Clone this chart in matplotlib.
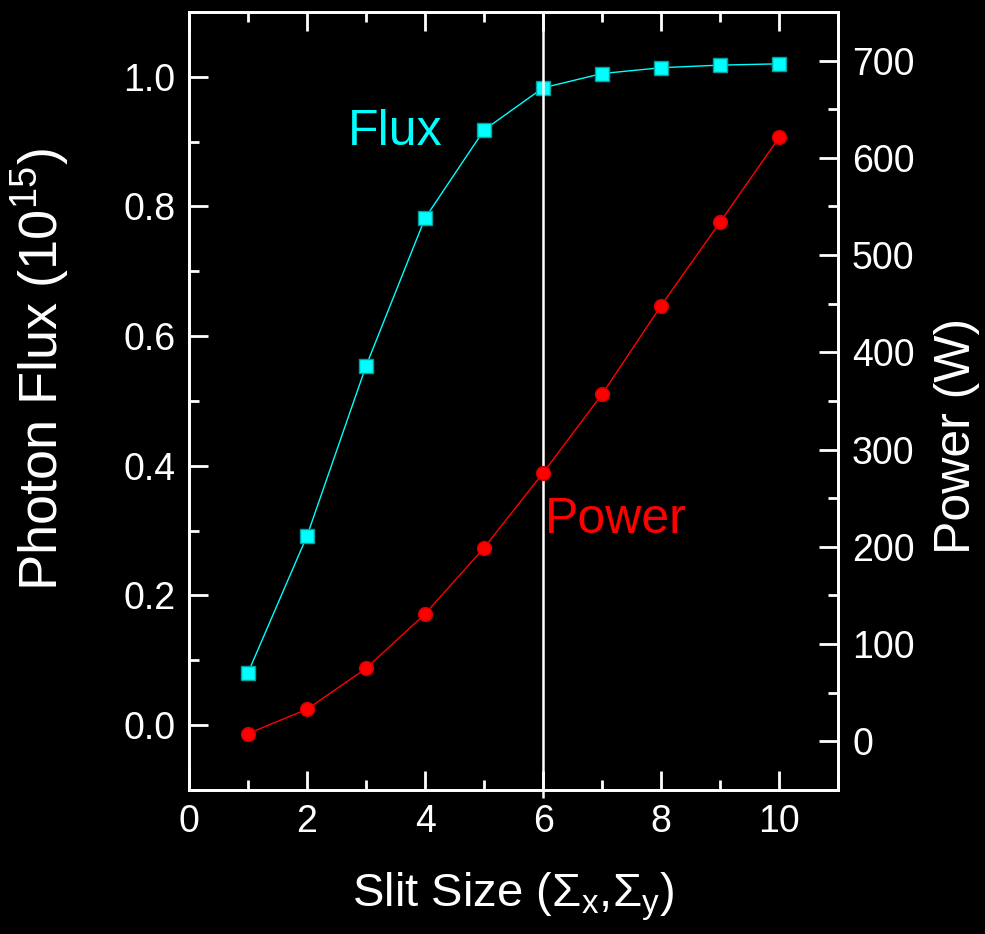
import matplotlib
matplotlib.use("Agg")
from matplotlib import pyplot as plt
from matplotlib.ticker import MultipleLocator

slit = [1, 2, 3, 4, 5, 6, 7, 8, 9, 10]
flux = [0.081, 0.292, 0.554, 0.782, 0.918, 0.983, 1.005, 1.014, 1.018, 1.020]
power = [8, 33, 75, 131, 199, 276, 357, 448, 534, 621]

x_ticks = [0, 2, 4, 6, 8, 10]
flux_ticks = [0.0, 0.2, 0.4, 0.6, 0.8, 1.0]
power_ticks = [0, 100, 200, 300, 400, 500, 600, 700]


def style_axis(ax):
    ax.set_facecolor("black")
    for s in ax.spines.values():
        s.set_color("white")
        s.set_linewidth(2)
    ax.tick_params(which="both", direction="in", colors="white", width=2,
                   labelsize=27)
    ax.tick_params(which="major", length=14, pad=10)
    ax.tick_params(which="minor", length=7)


def main():
    plt.rcParams["font.family"] = ["Liberation Sans", "DejaVu Sans"]
    plt.rcParams["mathtext.default"] = "regular"
    fig = plt.figure(figsize=(9.85, 9.34), dpi=100, facecolor="black")
    ax = fig.add_axes([0.1919, 0.1542, 0.659, 0.833])
    ax2 = ax.twinx()
    style_axis(ax)
    style_axis(ax2)

    ax.plot(slit, flux, color="cyan", lw=1, marker="s", markersize=10,
            markeredgecolor="#00a0a0", markeredgewidth=1)
    ax2.plot(slit, power, color="red", lw=1, marker="o", markersize=10,
             markeredgecolor="#d00000", markeredgewidth=1)
    # vertical marker at slit size 6, running a little past the bottom spine
    ax.vlines(6, -0.113, 1.1, color="white", lw=1.8, zorder=5, clip_on=False)

    ax.set_xlim(0, 11)
    ax.set_ylim(-0.1, 1.1)
    ax2.set_ylim(-50, 750)
    ax.set_xticks(x_ticks)
    ax.set_yticks(flux_ticks)
    ax.set_yticklabels([f"{v:.1f}" for v in flux_ticks])
    ax2.set_yticks(power_ticks)
    ax.xaxis.set_minor_locator(MultipleLocator(1))
    ax.yaxis.set_minor_locator(MultipleLocator(0.1))
    ax2.yaxis.set_minor_locator(MultipleLocator(50))
    ax.tick_params(top=True, which="both")
    ax.tick_params(axis="x", labeltop=False)

    ax.set_xlabel("Slit Size ($\\Sigma_x$,$\\Sigma_y$)", color="white",
                  fontsize=34, labelpad=22)
    ax.set_ylabel("Photon Flux (10$^{15}$)", color="white", fontsize=39)
    ax.yaxis.set_label_coords(-0.18, 0.54)
    ax2.set_ylabel("Power (W)", color="white", fontsize=36)
    ax2.yaxis.set_label_coords(1.147, 0.455)

    ax.text(3.5, 0.915, "Flux", color="cyan", fontsize=36,
            ha="center", va="center")
    ax2.text(7.23, 228, "Power", color="red", fontsize=36,
             ha="center", va="center")

    fig.savefig("out.png", dpi=100, facecolor="black")


if __name__ == "__main__":
    main()
